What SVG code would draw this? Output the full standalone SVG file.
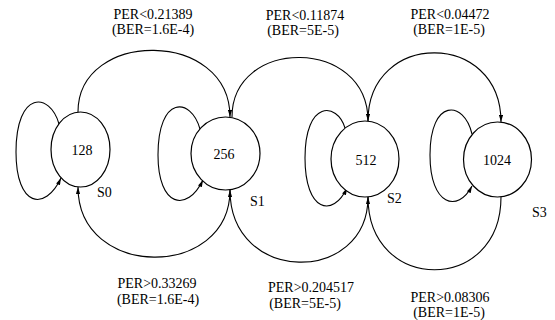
<svg xmlns="http://www.w3.org/2000/svg" width="555" height="320" viewBox="0 0 555 320">
<style>
text{font-family:"Liberation Serif","Times New Roman",serif;font-size:14px;fill:#000}
.c{text-anchor:middle}
.n{fill:#fff;stroke:#000;stroke-width:1.2}
.e{fill:none;stroke:#000;stroke-width:1.1;marker-end:url(#ah)}
</style>
<defs>
<marker id="ah" viewBox="0 0 10 6" refX="10" refY="3" markerWidth="7" markerHeight="4.5" markerUnits="userSpaceOnUse" orient="auto">
<path d="M0,0 L10,3 L0,6 Z" fill="#000"/>
</marker>
</defs>
<rect width="555" height="320" fill="#fff"/>
<g id="connectors">
<path class="e" d="M78,112 C78,29 230,29 230,117"/>
<path class="e" d="M232,117 C232,37 368,37 368,121"/>
<path class="e" d="M368,121 C368,30 501,30 501,122"/>
<path class="e" d="M230,190 C230,280 78,280 78,187"/>
<path class="e" d="M368,197 C368,285 230,285 230,190"/>
<path class="e" d="M501,197 C501,294 368,294 368,197"/>
<path class="e" d="M59,124 C50,92 16,90 16,152 C16,207 45,212 61,178"/>
<path class="e" d="M200,129 C191,97 158,95 158,155 C158,207 187,213 203,180"/>
<path class="e" d="M345,128 C337,102 305,100 305,158 C305,212 333,218 347,188"/>
<path class="e" d="M472,134 C464,100 430,98 430,155 C430,206 458,213 472,186"/>
</g>
<g id="s0">
<ellipse class="n" cx="80.5" cy="149.5" rx="29.5" ry="37.5"/>
<text class="c" x="82" y="155">128</text>
<text x="97" y="197">S0</text>
</g>
<g id="s1">
<ellipse class="n" cx="225.5" cy="153.5" rx="34.5" ry="36.5"/>
<text class="c" x="224" y="159">256</text>
<text x="250" y="206">S1</text>
</g>
<g id="s2">
<ellipse class="n" cx="365" cy="159" rx="34" ry="38"/>
<text class="c" x="366" y="165">512</text>
<text x="387" y="203">S2</text>
</g>
<g id="s3">
<ellipse class="n" cx="497.5" cy="159.5" rx="34" ry="37.5"/>
<text class="c" x="497" y="165">1024</text>
<text x="532" y="217">S3</text>
</g>
<g id="labels">
<text class="c" x="153" y="19">PER&lt;0.21389</text>
<text class="c" x="153" y="34">(BER=1.6E-4)</text>
<text class="c" x="305" y="20">PER&lt;0.11874</text>
<text class="c" x="303" y="35">(BER=5E-5)</text>
<text class="c" x="450" y="19">PER&lt;0.04472</text>
<text class="c" x="449" y="34">(BER=1E-5)</text>
<text class="c" x="157" y="288">PER&gt;0.33269</text>
<text class="c" x="158" y="304">(BER=1.6E-4)</text>
<text class="c" x="311" y="292">PER&gt;0.204517</text>
<text class="c" x="305" y="308">(BER=5E-5)</text>
<text class="c" x="450" y="302">PER&gt;0.08306</text>
<text class="c" x="449" y="317">(BER=1E-5)</text>
</g>
</svg>
